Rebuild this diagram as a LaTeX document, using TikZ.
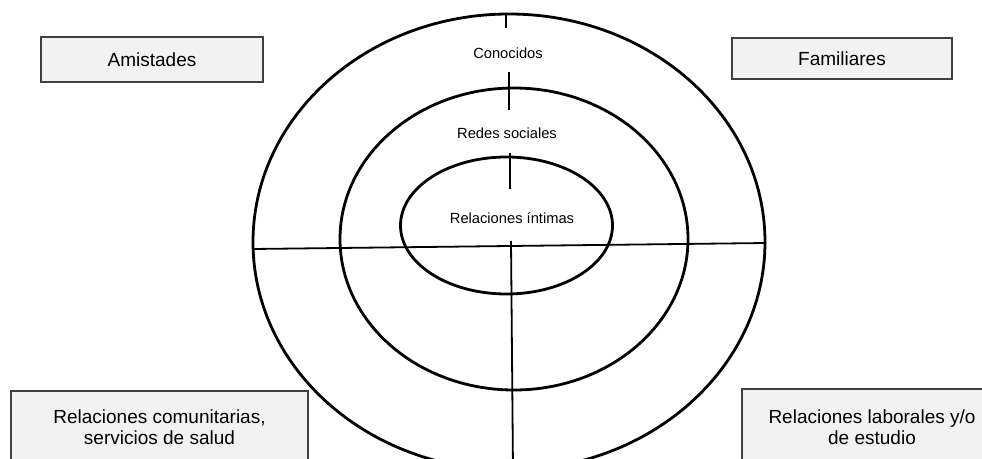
\documentclass[tikz,border=0pt]{standalone}
\usepackage{fontspec}
\setmainfont{Liberation Sans}
\begin{document}
\begin{tikzpicture}[x=1pt,y=-1pt,
  ring/.style={draw=black,line width=2.8pt},
  divider/.style={draw=black,line width=1.8pt},
  tick/.style={draw=black,line width=1.7pt},
  ringlabel/.style={inner sep=1pt,font=\fontsize{14.7}{17}\selectfont},
  catbox/.style={draw=black!75,line width=1.2pt,fill=black!5,align=center,
    inner sep=2pt,font=\fontsize{19}{21}\selectfont}]
\useasboundingbox (0,0) rectangle (982,458);
% rings
\draw[ring] (509,242) ellipse [x radius=256pt, y radius=228pt];
\draw[ring] (514,239) ellipse [x radius=174pt, y radius=151pt];
\draw[ring] (506.5,225.5) ellipse [x radius=106pt, y radius=68.5pt];
% dividers
\coordinate (hl) at (253,249);
\coordinate (hr) at (766,243);
\coordinate (vt) at (511,241);
\coordinate (vb) at (513,470);
\draw[divider] (hl) -- (hr);
\draw[divider] (vt) -- (vb);
% ticks
\coordinate (t1a) at (506,13); \coordinate (t1b) at (506,28);
\coordinate (t2a) at (509,72); \coordinate (t2b) at (509,110);
\coordinate (t3a) at (510,153); \coordinate (t3b) at (510,189);
\draw[tick] (t1a) -- (t1b);
\draw[tick] (t2a) -- (t2b);
\draw[tick] (t3a) -- (t3b);
% ring labels
\node[ringlabel] (conocidos) at (508,53) {Conocidos};
\node[ringlabel] (redes) at (507,133) {Redes sociales};
\node[ringlabel] (intimas) at (512,218) {Relaciones íntimas};
% category boxes
\node[catbox,minimum width=222pt,minimum height=45pt] (amistades) at (152,59.5) {Amistades};
\node[catbox,minimum width=220pt,minimum height=41pt] (familiares) at (842,58.5) {Familiares};
\node[catbox,minimum width=297pt,minimum height=72pt] (comunitarias) at (159.5,427) {Relaciones comunitarias,\\servicios de salud};
\node[catbox,minimum width=260pt,minimum height=76pt] (laborales) at (872,427) {Relaciones laborales y/o\\de estudio};
\end{tikzpicture}
\end{document}
